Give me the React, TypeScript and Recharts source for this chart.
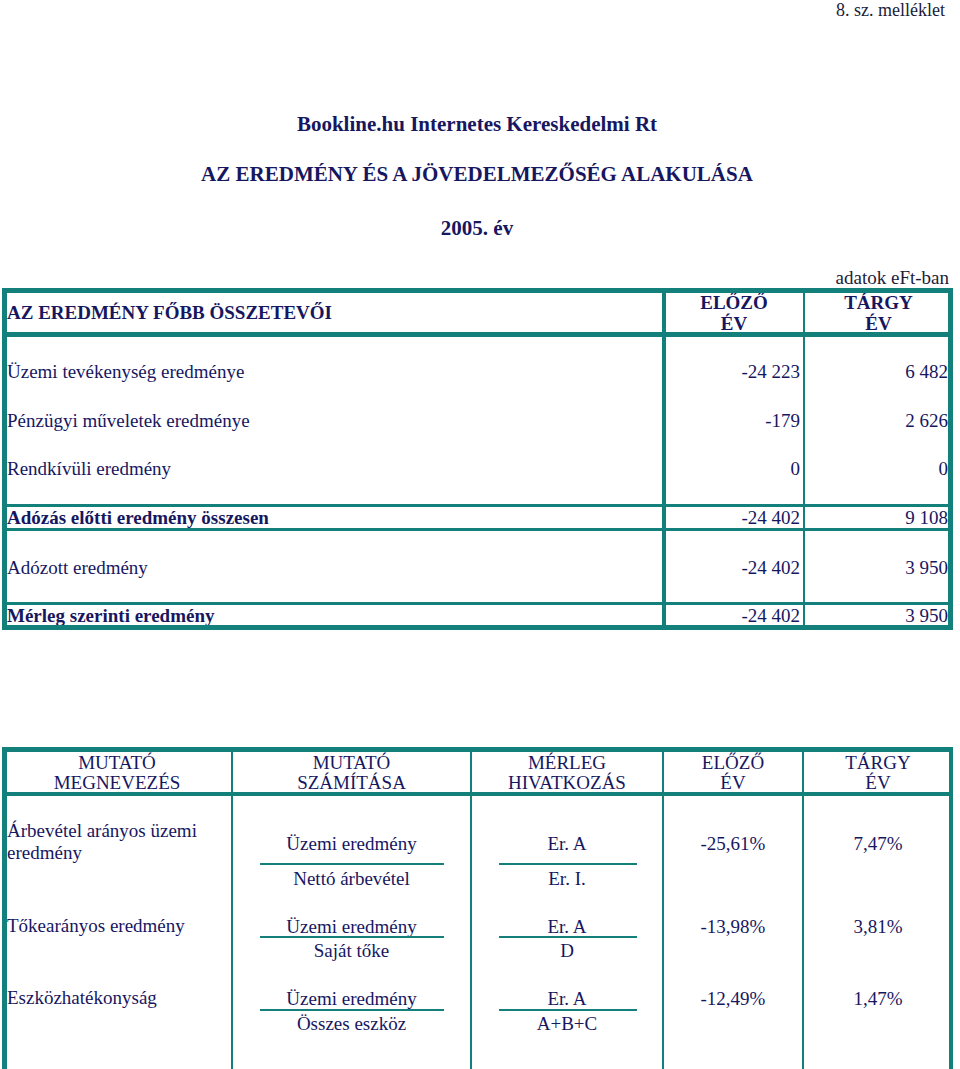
import { Surface, Layer, Rectangle, Text } from "recharts";

const NAVY = "#17175f";
const INK = "#1c1c3a";
const TEAL = "#13807b";
const FONT = '"Liberation Serif", "Times New Roman", serif';
const FS = 19;

// page texts
const docNote = "8. sz. melléklet";
const titles = [
  "Bookline.hu Internetes Kereskedelmi Rt",
  "AZ EREDMÉNY ÉS A JÖVEDELMEZŐSÉG ALAKULÁSA",
  "2005. év",
];
const unitNote = "adatok eFt-ban";

// table 1: result components (eFt)
const t1Header = "AZ EREDMÉNY FŐBB ÖSSZETEVŐI";
const yearHeaders = [
  ["ELŐZŐ", "ÉV"],
  ["TÁRGY", "ÉV"],
];
const t1Items = [
  "Üzemi tevékenység eredménye",
  "Pénzügyi műveletek eredménye",
  "Rendkívüli eredmény",
  "Adózás előtti eredmény összesen",
  "Adózott eredmény",
  "Mérleg szerinti eredmény",
];
const t1Bold = [false, false, false, true, false, true];
const t1Prev = [-24223, -179, 0, -24402, -24402, -24402];
const t1Curr = [6482, 2626, 0, 9108, 3950, 3950];

// table 2: ratios
const t2Headers = [
  ["MUTATÓ", "MEGNEVEZÉS"],
  ["MUTATÓ", "SZÁMÍTÁSA"],
  ["MÉRLEG", "HIVATKOZÁS"],
  ["ELŐZŐ", "ÉV"],
  ["TÁRGY", "ÉV"],
];
const ratioNames = ["Árbevétel arányos üzemi eredmény", "Tőkearányos eredmény", "Eszközhatékonyság"];
const numerators = ["Üzemi eredmény", "Üzemi eredmény", "Üzemi eredmény"];
const denominators = ["Nettó árbevétel", "Saját tőke", "Összes eszköz"];
const refNum = ["Er. A", "Er. A", "Er. A"];
const refDen = ["Er. I.", "D", "A+B+C"];
const ratioPrev = [-25.61, -13.98, -12.49];
const ratioCurr = [7.47, 3.81, 1.47];

// layout
const T1_COLS = [2, 664, 804, 953];
const T1_ROW_Y = [371, 420, 468, 517, 567, 615];
const T2_COLS = [2, 232, 471, 663, 803, 953];
const T2_NAME_Y = [837, 932, 1004];
const T2_NUM_Y = [843, 926, 998];
const T2_DEN_Y = [878, 950, 1023];
const T2_LINE_Y = [864, 937, 1010];

const fmtNum = (v: number) =>
  (v < 0 ? "-" : "") + Math.abs(v).toString().replace(/\B(?=(\d{3})+(?!\d))/g, " ");
const fmtPct = (v: number) => v.toFixed(2).replace(".", ",") + "%";

function Line({ x1, y1, x2, y2 }: { x1: number; y1: number; x2: number; y2: number }) {
  return <Rectangle x={x1} y={y1} width={x2 - x1} height={y2 - y1} fill={TEAL} />;
}

function T(props: any) {
  const { children, bold, size, color, ...rest } = props;
  return (
    <Text
      verticalAnchor="middle"
      fontFamily={FONT}
      fontSize={size ?? FS}
      fontWeight={bold ? "bold" : "normal"}
      fill={color ?? NAVY}
      {...rest}
    >
      {children}
    </Text>
  );
}

function TableOne() {
  const [c0, c1, c2, c3] = T1_COLS;
  const mid1 = (c1 + c2) / 2;
  const mid2 = (c2 + c3) / 2;
  return (
    <Layer>
      <T x={c0 + 5} y={312} bold>
        {t1Header}
      </T>
      {yearHeaders.map((h, i) => (
        <Layer key={i}>
          <T x={i === 0 ? mid1 : mid2} y={302} textAnchor="middle" bold>
            {h[0]}
          </T>
          <T x={i === 0 ? mid1 : mid2} y={323} textAnchor="middle" bold>
            {h[1]}
          </T>
        </Layer>
      ))}
      {t1Items.map((name, i) => (
        <Layer key={name}>
          <T x={c0 + 5} y={T1_ROW_Y[i]} bold={t1Bold[i]}>
            {name}
          </T>
          <T x={c2 - 4} y={T1_ROW_Y[i]} textAnchor="end">
            {fmtNum(t1Prev[i])}
          </T>
          <T x={c3 - 5} y={T1_ROW_Y[i]} textAnchor="end">
            {fmtNum(t1Curr[i])}
          </T>
        </Layer>
      ))}
      {/* grid */}
      <Line x1={c0} y1={288} x2={c3} y2={293} />
      <Line x1={c0} y1={332} x2={c3} y2={337} />
      <Line x1={c0} y1={504} x2={c3} y2={507} />
      <Line x1={c0} y1={528} x2={c3} y2={531} />
      <Line x1={c0} y1={602} x2={c3} y2={605} />
      <Line x1={c0} y1={625} x2={c3} y2={630} />
      <Line x1={c0} y1={288} x2={c0 + 5} y2={630} />
      <Line x1={c1 - 2} y1={288} x2={c1 + 2} y2={630} />
      <Line x1={c2 - 1} y1={288} x2={c2 + 1} y2={630} />
      <Line x1={c3 - 5} y1={288} x2={c3} y2={630} />
    </Layer>
  );
}

function TableTwo() {
  const mids = T2_COLS.slice(0, -1).map((c, i) => (c + T2_COLS[i + 1]) / 2);
  const top = 747;
  const bottom = 1069;
  return (
    <Layer>
      {t2Headers.map((h, i) => (
        <Layer key={i}>
          <T x={mids[i]} y={762} textAnchor="middle">
            {h[0]}
          </T>
          <T x={mids[i]} y={782} textAnchor="middle">
            {h[1]}
          </T>
        </Layer>
      ))}
      {ratioNames.map((name, i) => (
        <Layer key={name}>
          <T x={T2_COLS[0] + 5} y={T2_NAME_Y[i]} width={215} lineHeight={22}>
            {name}
          </T>
          <T x={mids[1]} y={T2_NUM_Y[i]} textAnchor="middle">
            {numerators[i]}
          </T>
          <Line x1={260} y1={T2_LINE_Y[i] - 1} x2={444} y2={T2_LINE_Y[i] + 1} />
          <T x={mids[1]} y={T2_DEN_Y[i]} textAnchor="middle">
            {denominators[i]}
          </T>
          <T x={mids[2]} y={T2_NUM_Y[i]} textAnchor="middle">
            {refNum[i]}
          </T>
          <Line x1={499} y1={T2_LINE_Y[i] - 1} x2={637} y2={T2_LINE_Y[i] + 1} />
          <T x={mids[2]} y={T2_DEN_Y[i]} textAnchor="middle">
            {refDen[i]}
          </T>
          <T x={mids[3]} y={T2_NUM_Y[i]} textAnchor="middle">
            {fmtPct(ratioPrev[i])}
          </T>
          <T x={mids[4]} y={T2_NUM_Y[i]} textAnchor="middle">
            {fmtPct(ratioCurr[i])}
          </T>
        </Layer>
      ))}
      <Line x1={T2_COLS[0]} y1={top} x2={T2_COLS[5]} y2={top + 5} />
      <Line x1={T2_COLS[0]} y1={792} x2={T2_COLS[5]} y2={796} />
      <Line x1={T2_COLS[0]} y1={top} x2={T2_COLS[0] + 5} y2={bottom} />
      {T2_COLS.slice(1, -1).map((c) => (
        <Line key={c} x1={c - 1} y1={top} x2={c + 1} y2={bottom} />
      ))}
      <Line x1={T2_COLS[5] - 4} y1={top} x2={T2_COLS[5]} y2={bottom} />
    </Layer>
  );
}

export default function App() {
  return (
    <div style={{ position: "absolute", left: 0, top: 0, width: 960, height: 1069, background: "#fff" }}>
      <Surface width={960} height={1069}>
        <T x={945} y={10} textAnchor="end" size={18} color={INK}>
          {docNote}
        </T>
        {titles.map((t, i) => (
          <T key={t} x={477} y={[124, 174, 228][i]} textAnchor="middle" bold size={21}>
            {t}
          </T>
        ))}
        <T x={949} y={277} textAnchor="end" color={INK}>
          {unitNote}
        </T>
        <TableOne />
        <TableTwo />
      </Surface>
    </div>
  );
}
